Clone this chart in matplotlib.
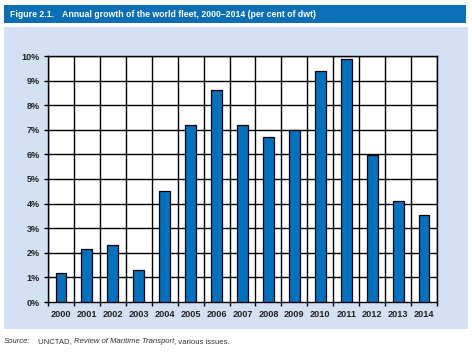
import matplotlib
matplotlib.use("Agg")
import matplotlib.pyplot as plt
from matplotlib.patches import Rectangle
import numpy as np

years = ["2000", "2001", "2002", "2003", "2004", "2005", "2006", "2007",
         "2008", "2009", "2010", "2011", "2012", "2013", "2014"]
growth = [1.18, 2.15, 2.31, 1.31, 4.52, 7.19, 8.61, 7.19,
          6.70, 6.98, 9.38, 9.86, 5.99, 4.10, 3.53]
y_ticks = [0, 1, 2, 3, 4, 5, 6, 7, 8, 9, 10]

W, H = 472, 355
fig = plt.figure(figsize=(W / 100, H / 100), dpi=100)
fig.patch.set_facecolor("white")
plt.rcParams['font.family'] = ['Liberation Sans', 'DejaVu Sans']

def fx(px):
    return px / W

def fy(py):
    return 1 - py / H

# Title bar
fig.patches.append(Rectangle((fx(4), fy(23)), fx(462), 18 / H, transform=fig.transFigure,
                             facecolor="#0a6fb5", edgecolor="none", zorder=-10))
# Panel
fig.patches.append(Rectangle((fx(4), fy(329)), fx(464), 302 / H, transform=fig.transFigure,
                             facecolor="#d4e0f4", edgecolor="none", zorder=-10))

fig.text(fx(10), fy(14.5), "Figure 2.1.", color="white", fontsize=6.3,
         fontweight="bold", va="center", ha="left")
fig.text(fx(62), fy(14.5), "Annual growth of the world fleet, 2000\u20132014 (per cent of dwt)",
         color="white", fontsize=6.3, fontweight="bold", va="center", ha="left")

ax = fig.add_axes([fx(48), fy(302), fx(437 - 48), (302 - 56) / H])
ax.set_facecolor("white")
x = np.arange(len(years))
ax.bar(x, growth, width=0.42, color="#0070bf", edgecolor="black", linewidth=0.9, zorder=3)
ax.set_xlim(-0.5, len(years) - 0.5)
ax.set_ylim(0, 10)
ax.set_yticks(y_ticks)
ax.set_yticklabels([f"{v}%" for v in y_ticks])
for v in y_ticks[1:]:
    ax.axhline(v, color="black", linewidth=1.0, zorder=1)
for b in np.arange(len(years) + 1) - 0.5:
    ax.axvline(b, color="black", linewidth=1.0, zorder=1)
ax.set_xticks(np.arange(len(years) + 1) - 0.5, minor=False)
ax.set_xticklabels([""] * (len(years) + 1))
ax.set_xticks(x, minor=True)
ax.set_xticklabels(years, minor=True)
ax.tick_params(axis="x", which="major", length=3, width=1.0, direction="out", color="black")
ax.tick_params(axis="x", which="minor", length=0, pad=6, labelsize=6.6, labelcolor="#222222")
ax.tick_params(axis="y", length=3, width=1.0, direction="out", labelsize=6.5,
               labelcolor="#222222", pad=3)
for lab in ax.get_xticklabels(minor=True) + ax.get_yticklabels():
    lab.set_fontweight("bold")
for s in ax.spines.values():
    s.set_color("black")
    s.set_linewidth(1.0)

# Source line, mixed italic/regular
fig.canvas.draw()
renderer = fig.canvas.get_renderer()
parts = [("Source:", "italic"), ("UNCTAD, ", "normal"),
         ("Review of Maritime Transport", "italic"), (", various issues.", "normal")]
xpos = fx(4)
for i, (txt, style) in enumerate(parts):
    if i == 1:
        xpos = fx(38)
    t = fig.text(xpos, fy(343), txt, fontsize=5.6, style=style, color="#333333",
                 va="baseline", ha="left")
    bb = t.get_window_extent(renderer=renderer)
    xpos = bb.x1 / fig.bbox.width

fig.savefig("out.png", dpi=100)
